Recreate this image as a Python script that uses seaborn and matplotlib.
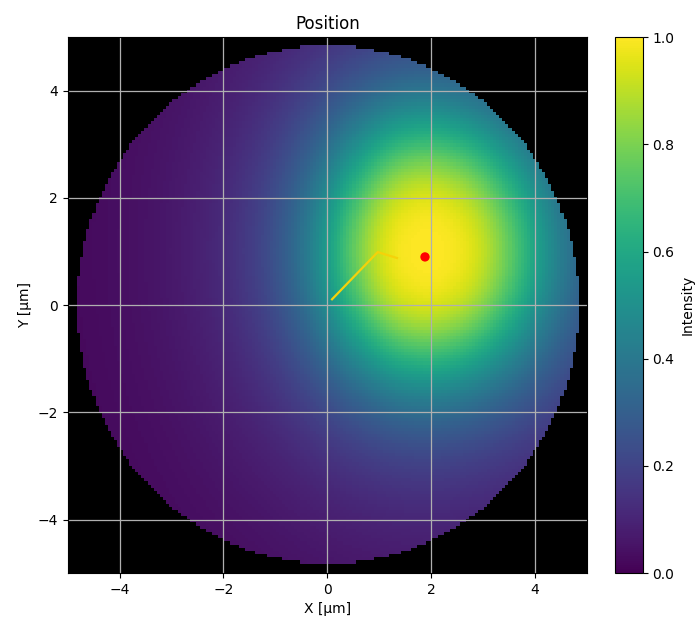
import numpy as np
import pandas as pd
import matplotlib
matplotlib.use("Agg")
import matplotlib.pyplot as plt
import seaborn as sns

# --- data ---
spot_center = (1.9, 1.0)       # µm, intensity maximum
half_left = 2.05               # µm, half-intensity distance towards -x
half_right = 2.35              # µm, half-intensity distance towards +x
half_up = 2.6                  # µm, half-intensity distance towards +y
half_down = 2.5                # µm, half-intensity distance towards -y
profile_power = 3.0            # steepness of the spot profile
aperture_radius = 4.85         # µm, circular mask
grid_points = 170              # image resolution
extent = [-5, 5, -5, 5]

traj_x = [0.09, 0.97, 1.34]
traj_y = [0.11, 0.99, 0.88]
marker_x = [1.88]
marker_y = [0.90]

xticks = [-4, -2, 0, 2, 4]
yticks = [-4, -2, 0, 2, 4]
cbar_ticks = [0.0, 0.2, 0.4, 0.6, 0.8, 1.0]

# --- build field ---
xs = np.linspace(extent[0], extent[1], grid_points)
ys = np.linspace(extent[2], extent[3], grid_points)
X, Y = np.meshgrid(xs, ys)
dx = X - spot_center[0]
dy = Y - spot_center[1]
gx = np.where(dx < 0, half_left, half_right)
gy = np.where(dy > 0, half_up, half_down)
u = np.sqrt((dx / gx) ** 2 + (dy / gy) ** 2)
field = 1.0 / (1.0 + u ** profile_power)
field = np.ma.masked_where(X ** 2 + Y ** 2 > aperture_radius ** 2, field)

fig = plt.figure(figsize=(6.98, 6.19), dpi=100)
ax = fig.add_axes([0.097, 0.074, 0.744, 0.866])
cax = fig.add_axes([0.881, 0.074, 0.040, 0.866])

ax.set_facecolor("black")
im = ax.imshow(field, origin="lower", extent=extent, cmap="viridis",
               vmin=0, vmax=1, interpolation="nearest", aspect="auto")

traj = pd.DataFrame({"x": traj_x, "y": traj_y})
sns.lineplot(data=traj, x="x", y="y", sort=False, color="#f5d20a",
             linewidth=1.6, ax=ax)
pts = pd.DataFrame({"x": marker_x, "y": marker_y})
sns.scatterplot(data=pts, x="x", y="y", color="red", s=45,
                edgecolor="none", ax=ax, zorder=5)

ax.set_xlim(-5, 5)
ax.set_ylim(-5, 5)
ax.set_xticks(xticks)
ax.set_yticks(yticks)
ax.grid(True, color="#b0b0b0", linewidth=0.9)
ax.set_title("Position", fontsize=12)
ax.set_xlabel("X [µm]")
ax.set_ylabel("Y [µm]")

cb = fig.colorbar(im, cax=cax, ticks=cbar_ticks)
cb.set_label("Intensity")

fig.savefig("out.png", dpi=100)
